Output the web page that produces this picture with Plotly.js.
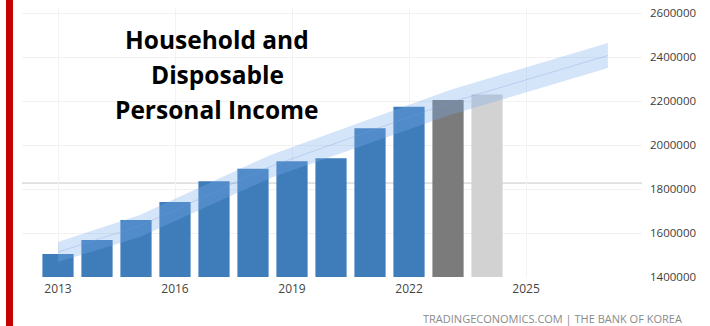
<!DOCTYPE html>
<html>
<head>
<meta charset="utf-8">
<script src="https://cdn.plot.ly/plotly-3.0.1.min.js"></script>
<style>
  html, body { margin: 0; padding: 0; background: #ffffff; }
  #chart { width: 710px; height: 326px; }
</style>
</head>
<body>
<div id="chart"></div>
<script>
// Data
const years = [2013, 2014, 2015, 2016, 2017, 2018, 2019, 2020, 2021, 2022, 2023, 2024];
const income = [1505000, 1568000, 1659000, 1741000, 1835000, 1892000, 1926000, 1940000, 2076000, 2174000, 2204000, 2230000];
const barColors = ['#3e7cba','#3e7cba','#3e7cba','#3e7cba','#3e7cba','#3e7cba','#3e7cba','#3e7cba','#3e7cba','#3e7cba','#7b7b7b','#d2d2d2'];

const bandYears = [2013, 2015.1, 2018.45, 2023.05, 2027.1];
const bandUpper = [1559000, 1682000, 1955000, 2250000, 2464000];
const bandLower = [1468000, 1582000, 1850000, 2136000, 2350000];

const refLevel = 1827000;
const xTicks = [2013, 2016, 2019, 2022, 2025];
const yTicks = [1400000, 1600000, 1800000, 2000000, 2200000, 2400000, 2600000];
const titleLines = ['Household and', 'Disposable', 'Personal Income'];
const sourceText = 'TRADINGECONOMICS.COM | THE BANK OF KOREA';

const bandMid = bandUpper.map((u, i) => (u + bandLower[i]) / 2);

const traces = [
  {
    type: 'bar', x: years, y: income,
    marker: { color: barColors, line: { width: 0 } },
    width: 0.8, hoverinfo: 'x+y', showlegend: false
  },
  {
    type: 'scatter', mode: 'lines',
    x: bandYears.concat(bandYears.slice().reverse()),
    y: bandUpper.concat(bandLower.slice().reverse()),
    fill: 'toself', fillcolor: 'rgba(120,170,235,0.32)',
    line: { width: 0, color: 'rgba(0,0,0,0)' },
    hoverinfo: 'skip', showlegend: false
  },
  {
    type: 'scatter', mode: 'lines', x: bandYears, y: bandMid,
    line: { width: 1, color: 'rgba(120,160,220,0.3)' },
    hoverinfo: 'skip', showlegend: false
  }
];

// layout geometry
const W = 710, H = 326, ML = 22, MR = 68, MT = 8, MB = 49;
const plotW = W - ML - MR, plotH = H - MT - MB;
const px2x = px => (px - ML) / plotW;
const py2y = py => (H - MB - py) / plotH;

const annotations = titleLines.map((t, i) => ({
  text: '<b>' + t + '</b>', xref: 'paper', yref: 'paper',
  x: px2x(217), y: py2y([39, 74, 109][i]), xanchor: 'center', yanchor: 'middle',
  showarrow: false,
  font: { family: 'Open Sans, sans-serif', size: 24.5, color: '#000000' }
}));
annotations.push({
  text: sourceText, xref: 'paper', yref: 'paper',
  x: px2x(684), y: py2y(318), xanchor: 'right', yanchor: 'middle',
  showarrow: false,
  font: { family: 'Open Sans, sans-serif', size: 11, color: '#8a8a8a' }
});

const layout = {
  width: W, height: H,
  margin: { l: ML, r: MR, t: MT, b: MB, pad: 0 },
  paper_bgcolor: '#ffffff', plot_bgcolor: '#ffffff',
  showlegend: false,
  bargap: 0.2,
  xaxis: {
    range: [2012.077, 2027.974], tickmode: 'array', tickvals: xTicks,
    ticktext: xTicks.map(String),
    showgrid: true, gridcolor: '#f3f3f3', gridwidth: 1,
    zeroline: false, showline: false, ticks: '', ticklabelstandoff: 3,
    tickfont: { family: 'Open Sans, sans-serif', size: 12, color: '#444444' }
  },
  yaxis: {
    side: 'right', range: [1400000, 2622727], tickmode: 'array', tickvals: yTicks,
    ticktext: yTicks.map(String),
    showgrid: true, gridcolor: '#f1f1f1', gridwidth: 1,
    zeroline: false, showline: false, ticks: '', ticklabelstandoff: 7,
    tickfont: { family: 'Open Sans, sans-serif', size: 11.5, color: '#3c3c3c' }
  },
  shapes: [
    { type: 'line', xref: 'paper', yref: 'y', x0: 0, x1: 1, y0: refLevel, y1: refLevel,
      line: { color: '#c8c8c8', width: 1 }, layer: 'below' },
    { type: 'rect', xref: 'paper', yref: 'paper',
      x0: px2x(6), x1: px2x(13), y0: py2y(H), y1: py2y(0),
      fillcolor: '#c40000', line: { width: 0 }, layer: 'above' }
  ],
  annotations: annotations
};

Plotly.newPlot('chart', traces, layout, { displayModeBar: false, staticPlot: true });
</script>
</body>
</html>
